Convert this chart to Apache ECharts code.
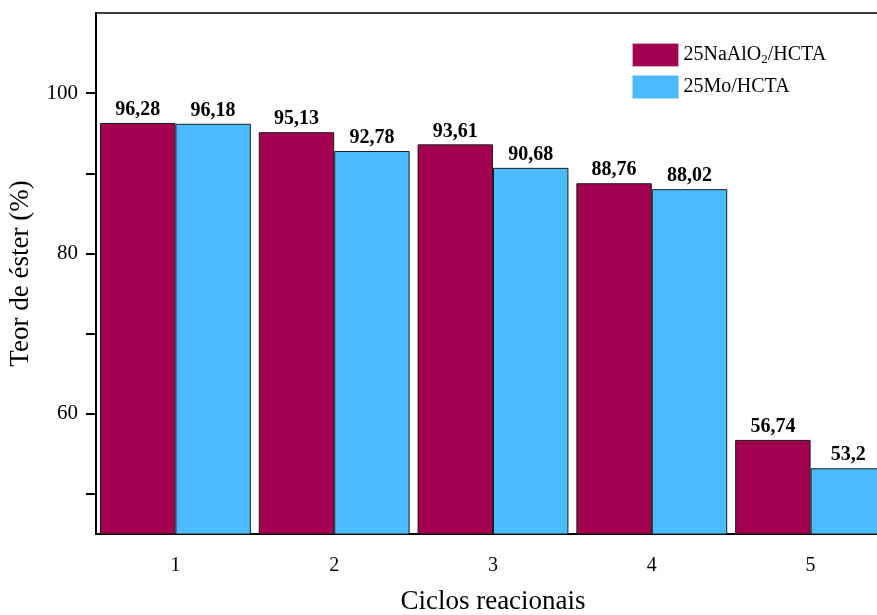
<!DOCTYPE html>
<html><head><meta charset="utf-8">
<script src="https://cdn.jsdelivr.net/npm/echarts@6/dist/echarts.min.js"></script>
<style>html,body{margin:0;padding:0;background:#fff;overflow:hidden}#c{width:900px;height:615px}</style>
</head><body><div id="c"></div>
<script>
const categories = ['1', '2', '3', '4', '5'];
const seriesNaAlO2 = [96.28, 95.13, 93.61, 88.76, 56.74];
const seriesMo = [96.18, 92.78, 90.68, 88.02, 53.2];
const yTickLabels = [60, 80, 100];
const yTicks = [50, 60, 70, 80, 90, 100];

const font = '"Liberation Serif", "Times New Roman", serif';
const chart = echarts.init(document.getElementById('c'));
const fmt = p => String(p.value).replace('.', ',');
chart.setOption({
  animation: false,
  backgroundColor: '#fff',
  grid: { left: 96, top: 13, width: 794, height: 521, outerBoundsMode: 'none', containLabel: false,
    show: true, borderColor: '#000', borderWidth: 1.5, backgroundColor: 'transparent' },
  legend: {
    left: 627, top: 38, orient: 'vertical', itemWidth: 46, itemHeight: 23, itemGap: 8, icon: 'rect',
    textStyle: { fontFamily: font, fontSize: 20, color: '#000', padding: [0, 0, 0, 0],
      rich: { sub: { fontFamily: font, fontSize: 13, verticalAlign: 'bottom', padding: [10, 0, 0, 0] } } },
    formatter: n => n === 'NaAlO2' ? '25NaAlO{sub|2}/HCTA' : '25Mo/HCTA',
    data: [{ name: 'NaAlO2', itemStyle: { borderColor: '#d9a5bd', borderWidth: 1 } }, { name: 'Mo', itemStyle: { borderColor: '#a8ddfa', borderWidth: 1 } }]
  },
  xAxis: {
    type: 'category', data: categories, boundaryGap: true,
    name: 'Ciclos reacionais', nameLocation: 'middle', nameGap: 54,
    nameTextStyle: { fontFamily: font, fontSize: 27, color: '#000' },
    axisLine: { lineStyle: { color: '#000', width: 2 } },
    axisTick: { alignWithLabel: true, length: 10, lineStyle: { color: '#000', width: 2 } },
    axisLabel: { fontFamily: font, fontSize: 20, color: '#000', margin: 22 },
    splitLine: { show: false }
  },
  yAxis: {
    type: 'value', min: 45, max: 110,
    name: 'Teor de éster (%)', nameLocation: 'middle', nameGap: 62,
    nameTextStyle: { fontFamily: font, fontSize: 27, color: '#000' },
    axisLine: { show: true, lineStyle: { color: '#000', width: 2 } },
    axisTick: { show: true, length: 10, lineStyle: { color: '#000', width: 2 }, customValues: yTicks },
    axisLabel: { fontFamily: font, fontSize: 21, color: '#000', margin: 18, customValues: yTickLabels },
    splitLine: { show: false }
  },
  series: [
    { name: 'NaAlO2', type: 'bar', data: seriesNaAlO2, barGap: '0%', barCategoryGap: '5%',
      itemStyle: { color: '#A30050', borderColor: '#1a1a1a', borderWidth: 1 },
      label: { show: true, position: 'top', distance: 3, formatter: fmt, fontFamily: font, fontSize: 20, fontWeight: 'bold', color: '#000' } },
    { name: 'Mo', type: 'bar', data: seriesMo,
      itemStyle: { color: '#4CBBFD', borderColor: '#1a1a1a', borderWidth: 1 },
      label: { show: true, position: 'top', distance: 3, formatter: fmt, fontFamily: font, fontSize: 20, fontWeight: 'bold', color: '#000' } }
  ]
});
</script></body></html>
